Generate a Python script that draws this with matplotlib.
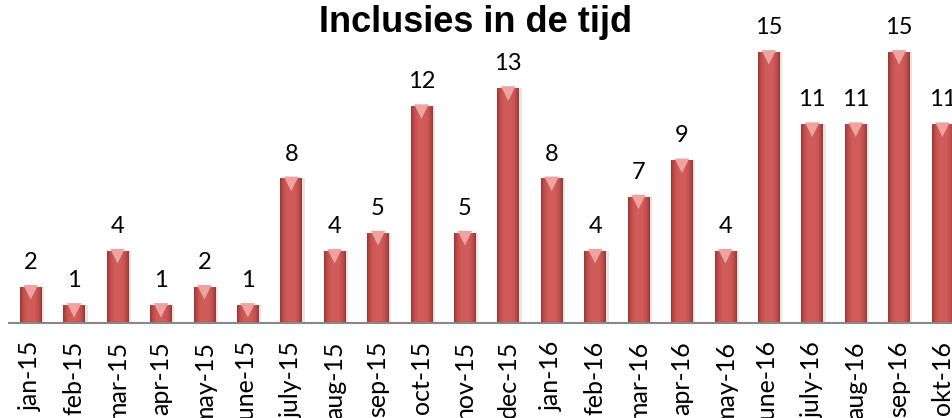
import matplotlib
matplotlib.use("Agg")
import matplotlib.pyplot as plt
import numpy as np

categories = ["jan-15", "feb-15", "mar-15", "apr-15", "may-15", "june-15", "july-15",
              "aug-15", "sep-15", "oct-15", "nov-15", "dec-15", "jan-16", "feb-16",
              "mar-16", "apr-16", "may-16", "june-16", "july-16", "aug-16", "sep-16", "okt-16"]
values = [2, 1, 4, 1, 2, 1, 8, 4, 5, 12, 5, 13, 8, 4, 7, 9, 4, 15, 11, 11, 15, 11]
title = "Inclusies in de tijd"

W, H = 952, 418
fig = plt.figure(figsize=(W / 100, H / 100), dpi=100)
base_px = 323
ax = fig.add_axes([9 / W, (H - base_px) / H, 1 - 9 / W, base_px / H])
unit_px = 18.07
ax.set_xlim(-0.5, 21.22)
ax.set_ylim(0, base_px / unit_px)

x = np.arange(len(categories))
bw = 0.5
# shadow
ax.bar(x + 0.06, values, width=bw, color="#999999", alpha=0.25, zorder=1)
bars = ax.bar(x, values, width=bw, color="#C0504D", zorder=2)

# cylinder-like horizontal gradient
g = np.linspace(-1, 1, 64)
shade = 1 - np.abs(g) ** 3
base = np.array([0.60, 0.20, 0.19])
light = np.array([0.82, 0.36, 0.35])
img = base[None, :] + (light - base)[None, :] * shade[:, None]
img = img[None, :, :]
for b in bars:
    x0, w, h = b.get_x(), b.get_width(), b.get_height()
    im = ax.imshow(img, extent=[x0, x0 + w, 0, h], aspect="auto", zorder=3, interpolation="bilinear")
    im.set_clip_path(b)

# top caps
ax.scatter(x, np.array(values) - 0.3, marker="v", s=110, color="#EFA3A1", zorder=4, edgecolors="none")

for xi, v in zip(x, values):
    ax.annotate(str(v), (xi, v), xytext=(0, 10), textcoords="offset points",
                ha="center", va="bottom", fontsize=17, family="Lato", color="black")

ax.set_xticks(x)
ax.set_xticklabels(categories, rotation=90, fontsize=18, family="Lato")
ax.tick_params(axis="x", length=0, pad=13)
ax.set_yticks([])
for s in ["top", "right", "left"]:
    ax.spines[s].set_visible(False)
ax.spines["bottom"].set_color("#888888")
ax.spines["bottom"].set_linewidth(1.5)
ax.spines["bottom"].set_zorder(5)

fig.text(476 / W, 1 - 22 / H, title, ha="center", va="center", fontsize=26,
         fontweight="bold", family="Liberation Sans")

fig.savefig("out.png", dpi=100)
